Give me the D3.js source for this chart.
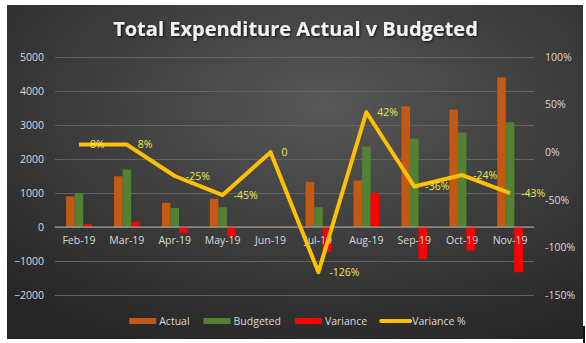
<!DOCTYPE html>
<html>
<head>
<meta charset="utf-8">
<script src="https://cdn.jsdelivr.net/npm/d3@7"></script>
<style>
  body { margin: 0; background: #fff; }
  svg { display: block; }
  text { font-family: "Open Sans", sans-serif; }
</style>
</head>
<body>
<div id="chart"></div>
<script>
// Monthly figures
const months = ["Feb-19", "Mar-19", "Apr-19", "May-19", "Jun-19", "Jul-19", "Aug-19", "Sep-19", "Oct-19", "Nov-19"];
const actual = [900, 1490, 710, 830, 0, 1320, 1370, 3550, 3450, 4400];
const budgeted = [1000, 1690, 560, 580, 0, 580, 2370, 2600, 2780, 3080];
const variance = [90, 150, -175, -275, 0, -730, 1000, -940, -690, -1330];
const variancePct = [8, 8, -25, -45, 0, -126, 42, -36, -24, -43];
const variancePctLabels = ["8%", "8%", "-25%", "-45%", "0", "-126%", "42%", "-36%", "-24%", "-43%"];

const leftTicks = [-2000, -1000, 0, 1000, 2000, 3000, 4000, 5000];
const rightTicks = [-1.5, -1, -0.5, 0, 0.5, 1];

const seriesNames = ["Actual", "Budgeted", "Variance"];
const seriesColors = { Actual: "#c65911", Budgeted: "#548235", Variance: "#ff0000" };
const lineColor = "#ffc000";
const labelColor = "#e9e94f";
const axisTextColor = "#d9d9d9";

const width = 586, height = 343;
const plot = { left: 55, right: 534, top: 57, bottom: 295 };

const svg = d3.select("#chart").append("svg")
    .attr("width", width)
    .attr("height", height);

const defs = svg.append("defs");

// dark radial background
const grad = defs.append("radialGradient")
    .attr("id", "bgGrad")
    .attr("cx", "0.55").attr("cy", "0.3").attr("r", "0.78");
grad.append("stop").attr("offset", "0").attr("stop-color", "#575757");
grad.append("stop").attr("offset", "1").attr("stop-color", "#262626");

const shadow = defs.append("filter").attr("id", "shadow")
    .attr("x", "-10%").attr("y", "-30%").attr("width", "120%").attr("height", "160%");
shadow.append("feDropShadow")
    .attr("dx", 1).attr("dy", 1).attr("stdDeviation", 1)
    .attr("flood-color", "#000").attr("flood-opacity", 0.8);

svg.append("rect")
    .attr("x", 7).attr("y", 5)
    .attr("width", 576).attr("height", 334)
    .attr("fill", "url(#bgGrad)");

svg.append("rect")
    .attr("x", 583).attr("y", 326)
    .attr("width", 2).attr("height", 17)
    .attr("fill", "#111");

// Scales
const x = d3.scaleBand().domain(months).range([plot.left, plot.right]);
const xSeries = d3.scaleBand().domain(seriesNames).range([-12.8, 12.8]);
const y = d3.scaleLinear().domain([-2000, 5000]).range([plot.bottom, plot.top]);
const yPct = d3.scaleLinear().domain([-1.5, 1]).range([plot.bottom, plot.top]);
const cx = m => x(m) + x.bandwidth() / 2;

// Gridlines + left axis
const leftAxis = svg.append("g")
    .attr("transform", `translate(${plot.left},0)`)
    .call(d3.axisLeft(y).tickValues(leftTicks).tickSize(-(plot.right - plot.left)).tickPadding(11).tickFormat(d3.format("d")));
leftAxis.select(".domain").remove();
leftAxis.selectAll(".tick line").attr("stroke", "#636363").attr("stroke-width", 1);
leftAxis.selectAll(".tick text")
    .attr("fill", axisTextColor)
    .attr("font-size", "10.5px")
    .attr("font-family", "'Open Sans', sans-serif");

// Right axis (percentages)
const rightAxis = svg.append("g")
    .attr("transform", `translate(${plot.right},0)`)
    .call(d3.axisRight(yPct).tickValues(rightTicks).tickSize(0).tickPadding(11).tickFormat(d => Math.round(d * 100) + "%"));
rightAxis.select(".domain").remove();
rightAxis.selectAll(".tick text")
    .attr("fill", axisTextColor)
    .attr("font-size", "10.5px")
    .attr("font-family", "'Open Sans', sans-serif");

// Bars
const rows = months.map((m, i) => ({
    month: m,
    values: [
        { key: "Actual", value: actual[i] },
        { key: "Budgeted", value: budgeted[i] },
        { key: "Variance", value: variance[i] }
    ]
}));

svg.append("g").selectAll("g")
    .data(rows)
    .enter()
    .append("g")
    .attr("transform", d => `translate(${cx(d.month)},0)`)
    .selectAll("rect")
    .data(d => d.values)
    .enter()
    .append("rect")
    .attr("x", d => xSeries(d.key))
    .attr("width", xSeries.bandwidth())
    .attr("y", d => y(Math.max(0, d.value)))
    .attr("height", d => Math.abs(y(d.value) - y(0)))
    .attr("fill", d => seriesColors[d.key]);

// Category axis along zero
const catAxis = svg.append("g")
    .attr("transform", `translate(0,${y(0)})`)
    .call(d3.axisBottom(x).tickSize(0).tickPadding(10));
catAxis.select(".domain")
    .attr("stroke", "#a6a6a6")
    .attr("d", `M${plot.left},0H${plot.right}`);
catAxis.selectAll(".tick text")
    .attr("fill", axisTextColor)
    .attr("font-size", "10.5px")
    .attr("font-family", "'Open Sans', sans-serif");

// Variance % line
const line = d3.line()
    .x((d, i) => cx(months[i]))
    .y(d => yPct(d / 100));

svg.append("path")
    .datum(variancePct)
    .attr("d", line)
    .attr("fill", "none")
    .attr("stroke", lineColor)
    .attr("stroke-width", 4)
    .attr("stroke-linejoin", "round");

svg.append("g").selectAll("text")
    .data(variancePct)
    .enter()
    .append("text")
    .attr("x", (d, i) => cx(months[i]) + 11)
    .attr("y", d => yPct(d / 100))
    .attr("dy", "0.35em")
    .attr("fill", labelColor)
    .attr("font-size", "10.5px")
    .text((d, i) => variancePctLabels[i]);

// Title
const title = svg.append("text")
    .attr("x", 295.5)
    .attr("y", 36)
    .attr("text-anchor", "middle")
    .attr("fill", "#f2f2f2")
    .attr("font-weight", "bold")
    .attr("font-size", "20px")
    .attr("filter", "url(#shadow)")
    .text("Total Expenditure Actual v Budgeted");
const tw = title.node().getComputedTextLength();
title.attr("font-size", (20 * 365 / tw).toFixed(2) + "px");

// Legend
const legendItems = [
    { name: "Actual", color: seriesColors.Actual, type: "rect" },
    { name: "Budgeted", color: seriesColors.Budgeted, type: "rect" },
    { name: "Variance", color: seriesColors.Variance, type: "rect" },
    { name: "Variance %", color: lineColor, type: "line" }
];
const legend = svg.append("g");
let lx = 0;
legendItems.forEach(item => {
    const g = legend.append("g").attr("transform", `translate(${lx},0)`);
    if (item.type === "rect") {
        g.append("rect").attr("x", 0).attr("y", -3).attr("width", 27).attr("height", 6).attr("fill", item.color);
    } else {
        g.append("line").attr("x1", 0).attr("x2", 29).attr("y1", 0).attr("y2", 0)
            .attr("stroke", item.color).attr("stroke-width", 4).attr("stroke-linecap", "round");
    }
    const t = g.append("text")
        .attr("x", item.type === "rect" ? 30 : 31)
        .attr("y", 0)
        .attr("dy", "0.35em")
        .attr("fill", axisTextColor)
        .attr("font-size", "10.5px")
        .text(item.name);
    lx += (item.type === "rect" ? 30 : 31) + t.node().getComputedTextLength() + 14;
});
const legendWidth = lx - 14;
legend.attr("transform", `translate(${297.5 - legendWidth / 2},321)`);
</script>
</body>
</html>
